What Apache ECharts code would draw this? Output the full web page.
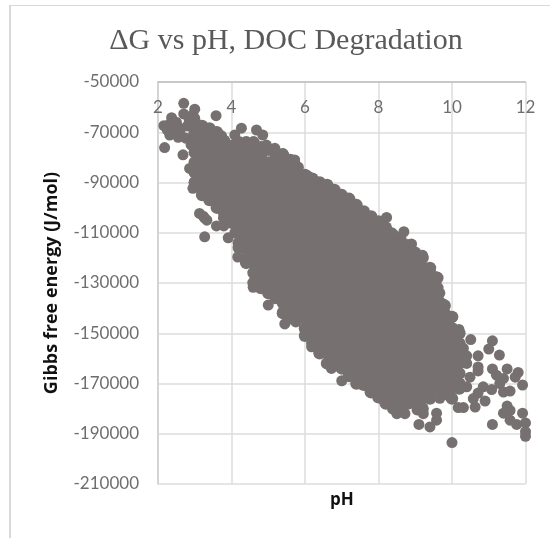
<!DOCTYPE html>
<html>
<head>
<meta charset="utf-8">
<style>
    html, body { margin: 0; padding: 0; background: #fff; }
    #frame { position: absolute; left: 9px; top: 5px; width: 541px; height: 533px; border-left: 2px solid #D9D9D9; border-top: 1px solid #D9D9D9; box-sizing: border-box; }
    #scatterChart { position: absolute; left: 0; top: 0; width: 550px; height: 538px; }
</style>
</head>
<body>
<div id="frame"></div>
<div id="scatterChart"></div>
<script src="https://cdn.jsdelivr.net/npm/echarts@6/dist/echarts.min.js"></script>
<script>
const xTicks = { min: 2, max: 12, step: 2 }
const yTicks = { min: -210000, max: -50000, step: 20000 }

// 中间密集区：按 pH 分列读取的点
const columnPH = [3.0, 3.2, 3.4, 3.6, 3.8, 4.0, 4.2, 4.4, 4.6, 4.8, 5.0, 5.2, 5.4, 5.6, 5.8, 6.0, 6.2, 6.4, 6.6, 6.8, 7.0, 7.2, 7.4, 7.6, 7.8, 8.0, 8.2, 8.4, 8.6, 8.8, 9.0, 9.2, 9.4, 9.6, 9.8, 10.0, 10.2]
const columnGibbs = [
    [-66000, -70000, -74000, -78000, -82000, -86000, -90000],
    [-67500, -72000, -76000, -80000, -84000, -88000, -92000, -95000],
    [-68500, -70000, -74000, -78000, -82000, -86000, -90000, -94000, -97000],
    [-70000, -72000, -76000, -80000, -84000, -88000, -92000, -96000, -100000],
    [-73500, -74000, -78000, -82000, -86000, -90000, -94000, -98000, -102000, -104000],
    [-75500, -80000, -84000, -88000, -92000, -96000, -100000, -104000, -106000],
    [-74000, -78000, -82000, -86000, -90000, -94000, -98000, -102000, -106000, -110000, -114000, -116000],
    [-74000, -76000, -80000, -84000, -88000, -92000, -96000, -100000, -104000, -108000, -112000, -116000, -120000, -122000],
    [-74000, -78000, -82000, -86000, -90000, -94000, -98000, -102000, -106000, -110000, -114000, -118000, -122000, -126000, -130000],
    [-76000, -80000, -84000, -88000, -92000, -96000, -100000, -104000, -108000, -112000, -116000, -120000, -124000, -128000, -132000],
    [-77000, -82000, -86000, -90000, -94000, -98000, -102000, -106000, -110000, -114000, -118000, -122000, -126000, -130000, -134000],
    [-78000, -80000, -84000, -88000, -92000, -96000, -100000, -104000, -108000, -112000, -116000, -120000, -124000, -128000, -132000, -136000],
    [-79000, -82000, -86000, -90000, -94000, -98000, -102000, -106000, -110000, -114000, -118000, -122000, -126000, -130000, -134000, -138000, -142000],
    [-81000, -84000, -88000, -92000, -96000, -100000, -104000, -108000, -112000, -116000, -120000, -124000, -128000, -132000, -136000, -140000, -144000],
    [-84000, -86000, -90000, -94000, -98000, -102000, -106000, -110000, -114000, -118000, -122000, -126000, -130000, -134000, -138000, -142000],
    [-87000, -88000, -92000, -96000, -100000, -104000, -108000, -112000, -116000, -120000, -124000, -128000, -132000, -136000, -140000, -144000, -148000, -151000],
    [-88500, -90000, -94000, -98000, -102000, -106000, -110000, -114000, -118000, -122000, -126000, -130000, -134000, -138000, -142000, -146000, -150000, -154000],
    [-90000, -92000, -96000, -100000, -104000, -108000, -112000, -116000, -120000, -124000, -128000, -132000, -136000, -140000, -144000, -148000, -152000, -156000, -158000],
    [-91000, -94000, -98000, -102000, -106000, -110000, -114000, -118000, -122000, -126000, -130000, -134000, -138000, -142000, -146000, -150000, -154000, -158000, -162000],
    [-93000, -96000, -100000, -104000, -108000, -112000, -116000, -120000, -124000, -128000, -132000, -136000, -140000, -144000, -148000, -152000, -156000, -160000, -162000],
    [-95000, -98000, -102000, -106000, -110000, -114000, -118000, -122000, -126000, -130000, -134000, -138000, -142000, -146000, -150000, -154000, -158000, -162000, -164000],
    [-96500, -100000, -104000, -108000, -112000, -116000, -120000, -124000, -128000, -132000, -136000, -140000, -144000, -148000, -152000, -156000, -160000, -164000, -167000],
    [-99000, -102000, -106000, -110000, -114000, -118000, -122000, -126000, -130000, -134000, -138000, -142000, -146000, -150000, -154000, -158000, -162000, -166000, -170000],
    [-101500, -104000, -108000, -112000, -116000, -120000, -124000, -128000, -132000, -136000, -140000, -144000, -148000, -152000, -156000, -160000, -164000, -168000, -170500],
    [-103500, -106000, -110000, -114000, -118000, -122000, -126000, -130000, -134000, -138000, -142000, -146000, -150000, -154000, -158000, -162000, -166000, -170000, -173500],
    [-105500, -108000, -112000, -116000, -120000, -124000, -128000, -132000, -136000, -140000, -144000, -148000, -152000, -156000, -160000, -164000, -168000, -172000, -175500],
    [-108000, -110000, -114000, -118000, -122000, -126000, -130000, -134000, -138000, -142000, -146000, -150000, -154000, -158000, -162000, -166000, -170000, -174000, -178000],
    [-111000, -112000, -116000, -120000, -124000, -128000, -132000, -136000, -140000, -144000, -148000, -152000, -156000, -160000, -164000, -168000, -172000, -176000, -180000],
    [-113000, -114000, -118000, -122000, -126000, -130000, -134000, -138000, -142000, -146000, -150000, -154000, -158000, -162000, -166000, -170000, -174000, -178000, -180000],
    [-115000, -116000, -120000, -124000, -128000, -132000, -136000, -140000, -144000, -148000, -152000, -156000, -160000, -164000, -168000, -172000, -176000, -178000],
    [-118000, -122000, -126000, -130000, -134000, -138000, -142000, -146000, -150000, -154000, -158000, -162000, -166000, -170000, -174000, -178000],
    [-120000, -124000, -128000, -132000, -136000, -140000, -144000, -148000, -152000, -156000, -160000, -164000, -168000, -172000, -176000, -180000],
    [-124000, -126000, -130000, -134000, -138000, -142000, -146000, -150000, -154000, -158000, -162000, -166000, -170000, -174000, -176000],
    [-128000, -132000, -136000, -140000, -144000, -148000, -152000, -156000, -160000, -164000, -168000, -172000],
    [-139000, -142000, -146000, -150000, -154000, -158000, -162000, -166000, -170000, -174000],
    [-143500, -148000, -152000, -156000, -160000, -164000, -168000, -172000, -176000],
    [-150000, -154000, -158000, -162000, -166000, -170000, -172000]
]

// 边缘和离群点
const edgePH = [2.18, 2.16, 2.37, 2.7, 2.7, 3.0, 3.58, 2.32, 2.55, 2.42, 2.95, 2.8, 2.9, 2.77, 2.68, 2.86, 2.95,
    2.5, 2.3, 2.6, 2.85, 2.45, 2.55, 3.0, 2.25,
    3.13, 3.27, 3.23, 3.33, 3.27, 3.59, 3.79, 3.91, 4.09, 4.17, 3.73, 4.27, 4.68, 4.09, 4.85, 4.95, 5.18, 5.4, 5.72, 6.08,
    4.59, 5.0, 5.39, 5.45, 5.75, 6.18, 6.38, 6.72, 7.0, 7.77, 8.13, 8.5, 8.72, 8.22, 8.36, 8.69, 8.9, 9.2, 9.58, 9.67, 9.72,
    9.05, 9.58, 9.58, 9.4, 9.1, 9.22, 9.67, 9.94, 10.0, 10.02, 10.19, 10.51, 11.1, 11.0, 11.29, 10.71, 10.71, 10.71, 10.31, 10.4, 10.4, 10.49, 10.4,
    11.1, 11.5, 11.8, 11.21, 11.4, 11.72, 11.92, 11.3, 11.08, 10.85, 11.4, 11.58, 10.71, 10.58, 10.9, 10.63, 10.31, 10.17,
    11.5, 11.58, 11.4, 11.92, 11.1, 11.58, 11.76, 12.0, 12.0, 12.0]
const edgeGibbs = [-76100, -67400, -64200, -58500, -62700, -60800, -63400, -71100, -68000, -69500, -63000, -67500, -75000, -72400, -79000, -84400, -92300,
    -66000, -67000, -70000, -65000, -66500, -72000, -64500, -69000,
    -102300, -104200, -103400, -105000, -111600, -107300, -107300, -112000, -110000, -119700, -71400, -68400, -69100, -71100, -71100, -75100, -76400, -78500, -81000, -87400,
    -131700, -138800, -141500, -146300, -145500, -155400, -157800, -164000, -168900, -173300, -176600, -182000, -182000, -103900, -110000, -109600, -114500, -119000, -127500, -134000, -138000,
    -180500, -181800, -184600, -187300, -186300, -182000, -175900, -175300, -193500, -143500, -148500, -152500, -153000, -156300, -158700, -159000, -163400, -165000, -156000, -159000, -162000, -167500, -171300,
    -164200, -164200, -165600, -166700, -168000, -167500, -170600, -170000, -172400, -171300, -173400, -173000, -173800, -176000, -177000, -179400, -179600, -179600,
    -179000, -180700, -181800, -181800, -186300, -184600, -186300, -185700, -189200, -191000]

function buildColumnPoints() {
    let points = []
    columnPH.forEach((ph, i) => {
        columnGibbs[i].forEach(g => points.push([ph, g]))
    })
    return points
}

function buildEdgePoints() {
    return edgePH.map((ph, i) => [ph, edgeGibbs[i]])
}

function initChart() {
    const myChart = echarts.init(document.getElementById('scatterChart'))
    const markColor = '#767170'
    const option = {
        animation: false,
        title: {
            text: '\u0394G vs pH, DOC Degradation',
            left: 281,
            top: 21,
            textAlign: 'center',
            textStyle: { fontFamily: 'Liberation Serif', fontSize: 30, fontWeight: 'normal', color: '#595959' }
        },
        grid: { left: 158, top: 82, right: 24.5, bottom: 54 },
        xAxis: {
            type: 'value',
            position: 'top',
            min: xTicks.min,
            max: xTicks.max,
            interval: xTicks.step,
            axisLine: { onZero: false, lineStyle: { color: '#BFBFBF', width: 1.5 } },
            axisTick: { show: false },
            axisLabel: { inside: true, margin: 17, fontFamily: 'Lato', fontSize: 17, color: '#6E6E6E' },
            splitLine: { show: true, lineStyle: { color: '#DDDDDD', width: 1.5 } }
        },
        yAxis: {
            type: 'value',
            min: yTicks.min,
            max: yTicks.max,
            interval: yTicks.step,
            axisLine: { show: true, onZero: false, lineStyle: { color: '#CFCFCF', width: 1.5 } },
            axisTick: { show: false },
            axisLabel: { margin: 19, fontFamily: 'Lato', fontSize: 17, color: '#6E6E6E', formatter: v => String(v) },
            splitLine: { show: true, lineStyle: { color: '#DDDDDD', width: 1.5 } }
        },
        graphic: [
            { type: 'text', left: 330, top: 492, style: { text: 'pH', font: 'bold 17px "Open Sans"', fill: '#111' } },
            { type: 'text', x: 52, y: 283, rotation: Math.PI / 2, style: { text: 'Gibbs free energy (J/mol)', font: 'bold 18px "Open Sans"', fill: '#111', align: 'center', verticalAlign: 'middle' } }
        ],
        series: [
            {
                type: 'scatter',
                clip: false,
                symbolSize: 12.5,
                itemStyle: { color: markColor, opacity: 1 },
                data: buildColumnPoints()
            },
            {
                type: 'scatter',
                clip: false,
                symbolSize: 11,
                itemStyle: { color: markColor, opacity: 1 },
                data: buildEdgePoints()
            }
        ]
    }
    myChart.setOption(option, true)
}

initChart()
</script>
</body>
</html>
